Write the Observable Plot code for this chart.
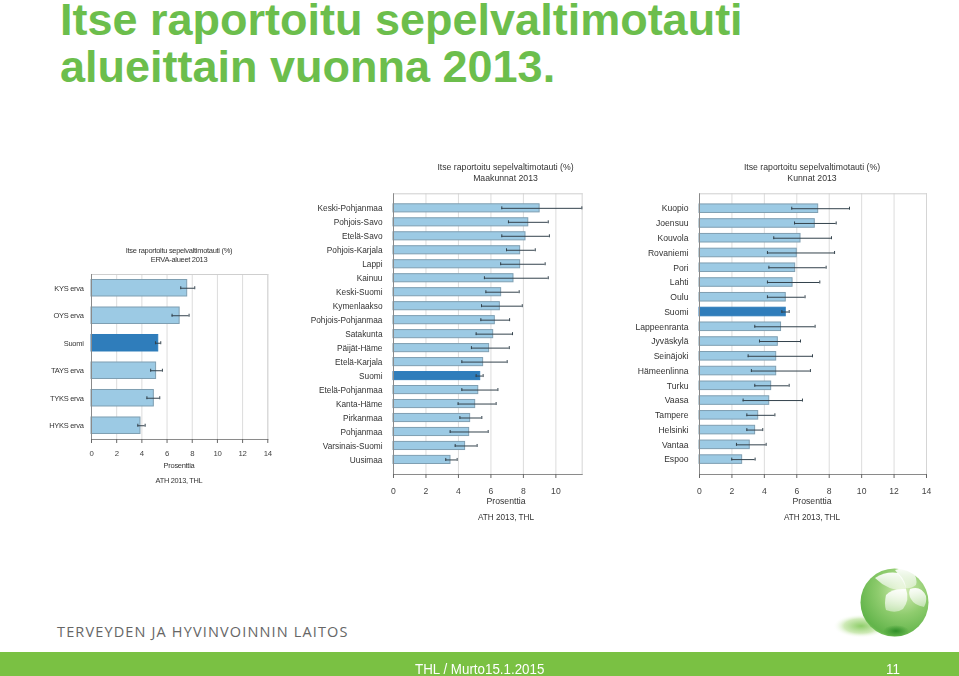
<!DOCTYPE html>
<html><head><meta charset="utf-8">
<script src="https://cdn.jsdelivr.net/npm/d3@7"></script>
<script src="https://cdn.jsdelivr.net/npm/@observablehq/plot@0.6"></script>
<style>
html,body{margin:0;padding:0;background:#fff;}
#page{position:relative;width:959px;height:676px;overflow:hidden;font-family:"Liberation Sans",Arial,sans-serif;}
.abs{position:absolute;white-space:nowrap;}
.h1{left:60px;color:#6cbe4c;font-weight:bold;font-size:45px;line-height:40px;}
.ct{color:#333;line-height:11px;text-align:center;transform:translateX(-50%);filter:blur(.25px);}
.plot{position:absolute;filter:blur(.25px);}
.plot svg{display:block;overflow:visible;}
.foot{top:660px;font-size:15px;line-height:18px;color:#fff;transform-origin:left center;transform:scaleX(.89);}
</style></head><body>
<div id="page">
<div class="abs h1" style="top:0px">Itse raportoitu sepelvaltimotauti</div>
<div class="abs h1" style="top:46.5px">alueittain vuonna 2013.</div>
<div id="charts"></div>
<div class="abs" style="left:57px;top:622px;font-family:'Open Sans';font-size:14.5px;letter-spacing:1.15px;color:#666">TERVEYDEN JA HYVINVOINNIN LAITOS</div>
<svg class="abs" style="left:820px;top:560px" width="120" height="90" viewBox="0 0 120 90">
<defs>
<radialGradient id="ball" cx=".62" cy=".32" r=".8"><stop offset="0" stop-color="#d6edb8"/><stop offset=".45" stop-color="#8fcc6e"/><stop offset=".85" stop-color="#62b44a"/><stop offset="1" stop-color="#93d373"/></radialGradient>
<radialGradient id="sh"><stop offset="0" stop-color="#8fce6a"/><stop offset=".6" stop-color="#cfeab8"/><stop offset="1" stop-color="#ffffff" stop-opacity="0"/></radialGradient>
<radialGradient id="spot"><stop offset="0" stop-color="#2f8f28"/><stop offset="1" stop-color="#2f8f28" stop-opacity="0"/></radialGradient>
<linearGradient id="pet" x1="0" y1="0" x2="0" y2="1"><stop offset="0" stop-color="#fff" stop-opacity=".95"/><stop offset="1" stop-color="#fff" stop-opacity=".45"/></linearGradient>
</defs>
<ellipse cx="41" cy="66" rx="28" ry="12" fill="url(#sh)"/>
<ellipse cx="74.5" cy="42.5" rx="34" ry="34" fill="url(#ball)"/>
<ellipse cx="76" cy="71" rx="13" ry="6" fill="url(#spot)"/>
<path d="M55 18 Q66 11 78 13 Q87 22 86 31 Q68 31 55 18Z" fill="url(#pet)"/>
<path d="M75 10 Q84 7 92 11 Q98 18 96 25 Q90 29 86 28 Q82 18 75 10Z" fill="url(#pet)"/>
<path d="M86 29 Q72 28 66 35 Q64 44 66 50 Q76 54 83 49 Q90 40 86 29Z" fill="url(#pet)"/>
<path d="M90 29 Q101 25 106 36 Q107 42 104 47 Q94 45 91 39 Q88 34 90 29Z" fill="url(#pet)"/>
</svg>
<div class="abs" style="left:0;top:652px;width:959px;height:24px;background:#7ac143"></div>
<div class="abs foot" style="left:415px">THL / Murto15.1.2015</div>
<div class="abs foot" style="left:886px">11</div>
</div>
<script>
const ervaNames = ["KYS erva","OYS erva","Suomi","TAYS erva","TYKS erva","HYKS erva"];
const ervaValues = [7.6,7.0,5.3,5.13,4.95,3.89];
const ervaLow = [7.09,6.4,5.08,4.7,4.4,3.68];
const ervaHigh = [8.2,7.75,5.5,5.63,5.42,4.26];

const maakuntaNames = ["Keski-Pohjanmaa","Pohjois-Savo","Etelä-Savo","Pohjois-Karjala","Lappi","Kainuu","Keski-Suomi","Kymenlaakso","Pohjois-Pohjanmaa","Satakunta","Päijät-Häme","Etelä-Karjala","Suomi","Etelä-Pohjanmaa","Kanta-Häme","Pirkanmaa","Pohjanmaa","Varsinais-Suomi","Uusimaa"];
const maakuntaValues = [9.0,8.3,8.13,7.8,7.8,7.39,6.63,6.55,6.24,6.14,5.89,5.52,5.34,5.22,5.03,4.72,4.66,4.41,3.51];
const maakuntaLow = [6.67,7.08,6.67,6.96,6.6,5.6,5.69,5.42,5.38,5.09,4.8,4.21,5.09,4.21,3.98,4.09,3.49,3.8,3.22];
const maakuntaHigh = [11.6,9.53,9.6,8.73,9.34,9.53,7.74,7.93,7.15,7.33,7.13,7.0,5.52,6.43,6.32,5.44,5.83,5.15,3.92];

const kuntaNames = ["Kuopio","Joensuu","Kouvola","Rovaniemi","Pori","Lahti","Oulu","Suomi","Lappeenranta","Jyväskylä","Seinäjoki","Hämeenlinna","Turku","Vaasa","Tampere","Helsinki","Vantaa","Espoo"];
const kuntaValues = [7.32,7.11,6.23,6.0,5.9,5.74,5.32,5.32,5.03,4.83,4.73,4.73,4.42,4.3,3.62,3.43,3.1,2.63];
const kuntaLow = [5.69,5.86,4.58,4.19,4.28,4.19,4.19,5.08,3.41,3.7,3.0,3.2,3.41,2.69,2.92,2.92,2.28,1.99];
const kuntaHigh = [9.25,8.43,8.14,8.33,7.81,7.42,6.51,5.53,7.13,6.23,6.97,6.84,5.53,6.35,4.65,3.9,4.11,3.43];

const sans = "'Liberation Sans',Arial,sans-serif";
const panels = [
 {names:ervaNames,values:ervaValues,low:ervaLow,high:ervaHigh,top:264,plotL:91,plotR:267.3,plotT:274,plotB:439,dmax:14,ls:"-0.3px",
  ticks:[0,2,4,6,8,10,12,14],po:.2,pi:.4,pad:8,fs:7.5,tfs:7.8,tickPad:7,
  title:["Itse raportoitu sepelvaltimotauti (%)","ERVA-alueet 2013"],tx:179,ty:244.5,gap:9.5,lx:179,ly:459.5,sx:179,sy:474.5,tfont:7.5,lfont:7.5,sfont:7.4},
 {names:maakuntaNames,values:maakuntaValues,low:maakuntaLow,high:maakuntaHigh,top:183,plotL:393,plotR:581.7,plotT:193.3,plotB:474,dmax:11.62,ls:"0",
  ticks:[0,2,4,6,8,10],po:.75,pi:.42,pad:11,fs:8.3,tfs:8.6,tickPad:9,
  title:["Itse raportoitu sepelvaltimotauti (%)","Maakunnat 2013"],tx:505.5,ty:162,gap:10.5,lx:506,ly:496,sx:506,sy:512,tfont:8.7,lfont:8.7,sfont:8.2},
 {names:kuntaNames,values:kuntaValues,low:kuntaLow,high:kuntaHigh,top:183,plotL:699,plotR:926,plotT:193.3,plotB:474,dmax:14,ls:"0",
  ticks:[0,2,4,6,8,10,12,14],po:.72,pi:.42,pad:11,fs:8.6,tfs:8.6,tickPad:9,
  title:["Itse raportoitu sepelvaltimotauti (%)","Kunnat 2013"],tx:812,ty:162,gap:10.5,lx:812,ly:496,sx:812,sy:512,tfont:8.7,lfont:8.7,sfont:8.2}
];

const host = document.getElementById("charts");
for (const p of panels) {
  const rows = p.names.map((name,i)=>({name,value:p.values[i],low:p.low[i],high:p.high[i]}));
  const W = p.plotR + 20, marginBottom = 24, H = p.plotB - p.top + marginBottom;
  const step = (p.plotB-p.plotT)/(p.names.length - p.pi + 2*p.po);
  const capInset = step*(1-p.pi)/2 - 1.5;
  const ink = "#33424c";
  const chart = Plot.plot({
    width:W, height:H,
    marginLeft:p.plotL, marginRight:W-p.plotR, marginTop:p.plotT-p.top, marginBottom,
    style:{background:"transparent",fontFamily:sans,color:"#333",fontSize:p.fs+"px",letterSpacing:p.ls},
    x:{domain:[0,p.dmax]},
    y:{domain:p.names,paddingInner:p.pi,paddingOuter:p.po,align:.5,round:false,label:null},
    marks:[
      Plot.gridX(p.ticks,{stroke:"#dcdcdc",strokeOpacity:1,strokeWidth:1}),
      Plot.frame({anchor:"top",stroke:"#cfcfcf"}),
      Plot.frame({anchor:"right",stroke:"#d5d5d5"}),
      Plot.barX(rows,{x:"value",y:"name",fill:d=>d.name==="Suomi"?"#2f7dbb":"#9ccae4",stroke:d=>d.name==="Suomi"?"#2f7dbb":"#7f9fb2",strokeWidth:1}),
      Plot.ruleY(rows,{x1:"low",x2:"high",y:"name",stroke:ink,strokeWidth:1}),
      Plot.tickX(rows,{x:"low",y:"name",stroke:ink,insetTop:capInset,insetBottom:capInset}),
      Plot.tickX(rows,{x:"high",y:"name",stroke:ink,insetTop:capInset,insetBottom:capInset}),
      Plot.frame({anchor:"left",stroke:"#8a8a8a"}),
      Plot.frame({anchor:"bottom",stroke:"#8a8a8a"}),
      Plot.axisY({tickSize:0,tickPadding:p.pad,label:null,fontSize:p.fs,fill:"#333"}),
      Plot.axisX({ticks:p.ticks,tickSize:4,tickPadding:p.tickPad,label:null,fontSize:p.tfs,fill:"#444",stroke:"#666"})
    ]
  });
  const wrap = document.createElement("div");
  wrap.className="plot"; wrap.style.left="0px"; wrap.style.top=p.top+"px";
  wrap.appendChild(chart); host.appendChild(wrap);
  const add=(txt,x,y,fs)=>{const d=document.createElement("div");d.className="abs ct";d.style.left=x+"px";d.style.top=y+"px";d.style.fontSize=fs+"px";d.style.letterSpacing=p.ls;d.textContent=txt;host.appendChild(d);};
  add(p.title[0],p.tx,p.ty,p.tfont);
  add(p.title[1],p.tx,p.ty+p.gap,p.tfont);
  add("Prosenttia",p.lx,p.ly,p.lfont);
  add("ATH 2013, THL",p.sx,p.sy,p.sfont);
}
</script>
</body></html>
